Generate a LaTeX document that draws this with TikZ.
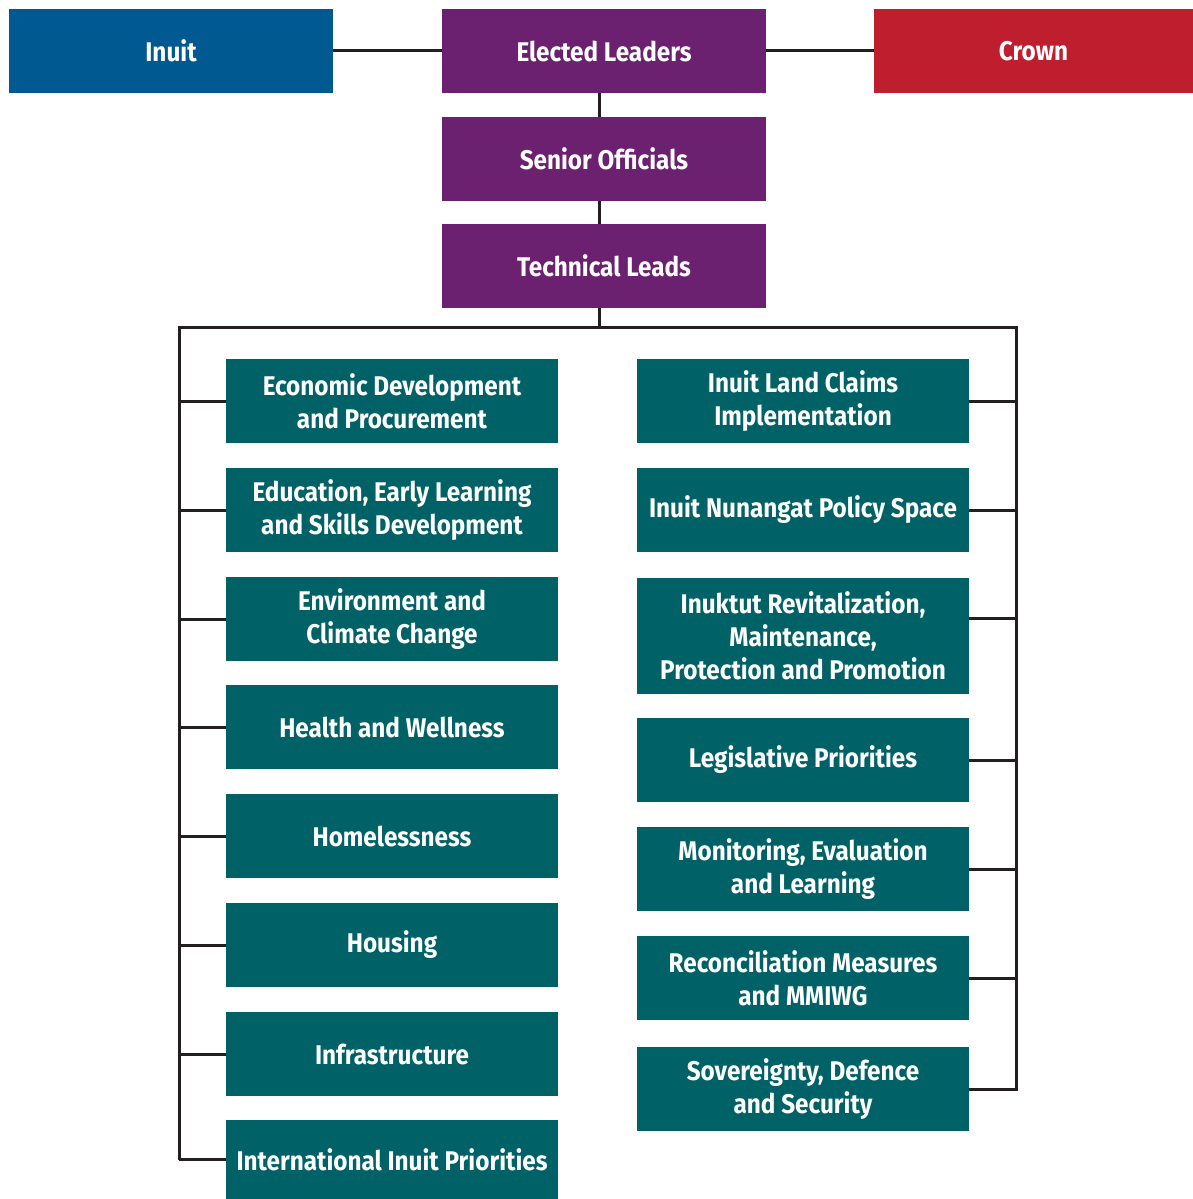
\documentclass[tikz,border=0pt]{standalone}
\usepackage{fontspec}
\setmainfont[FakeStretch=0.9]{Fira Sans}
\definecolor{inuitblue}{HTML}{005A91}
\definecolor{govpurple}{HTML}{6B2070}
\definecolor{crownred}{HTML}{BE1E2D}
\definecolor{wgteal}{HTML}{006266}
\definecolor{linegray}{HTML}{231F20}
\begin{document}
\begin{tikzpicture}[x=1pt,y=-1pt,
  box/.style={rectangle, inner sep=0pt, text=white, align=center,
    font=\bfseries\fontsize{27}{33}\selectfont},
  topbox/.style={box, minimum width=324pt, minimum height=84pt},
  lbox/.style={box, fill=wgteal, minimum width=332pt, minimum height=84pt},
  conn/.style={draw=linegray, line width=3pt}]
\useasboundingbox (0,0) rectangle (1193,1199);
% top row
\node[topbox, fill=inuitblue] (inuit) at (171,51) {Inuit};
\node[topbox, fill=govpurple] (elected) at (604,51) {Elected Leaders};
\node[topbox, fill=crownred, minimum width=319pt] (crown) at (1033.5,51) {Crown};
\node[topbox, fill=govpurple] (senior) at (604,159) {Senior Officials};
\node[topbox, fill=govpurple] (tech) at (604,266) {Technical Leads};
% left column
\node[lbox] (l1) at (392,401) {Economic Development\\and Procurement};
\node[lbox] (l2) at (392,510) {Education, Early Learning\\and Skills Development};
\node[lbox] (l3) at (392,619) {Environment and\\Climate Change};
\node[lbox] (l4) at (392,727) {Health and Wellness};
\node[lbox] (l5) at (392,836) {Homelessness};
\node[lbox] (l6) at (392,945) {Housing};
\node[lbox] (l7) at (392,1054) {Infrastructure};
\node[lbox, minimum height=79pt] (l8) at (392,1159.5) {International Inuit Priorities};
% right column
\node[lbox] (r1) at (803,401) {Inuit Land Claims\\Implementation};
\node[lbox] (r2) at (803,510) {Inuit Nunangat Policy Space};
\node[lbox, minimum height=116pt] (r3) at (803,636) {Inuktut Revitalization,\\Maintenance,\\Protection and Promotion};
\node[lbox] (r4) at (803,760) {Legislative Priorities};
\node[lbox] (r5) at (803,869) {Monitoring, Evaluation\\and Learning};
\node[lbox] (r6) at (803,978) {Reconciliation Measures\\and MMIWG};
\node[lbox] (r7) at (803,1089) {Sovereignty, Defence\\and Security};
% bus coordinates
\coordinate (bus) at (599,327);
\coordinate (lspine) at (179,327);
\coordinate (rspine) at (1016,327);
\coordinate (lend) at (179,1160);
% connectors
\draw[conn] (inuit.east) -- (elected.west);
\draw[conn] (elected.east) -- (crown.west);
\draw[conn] (elected.south -| bus) -- (senior.north -| bus);
\draw[conn] (senior.south -| bus) -- (tech.north -| bus);
\draw[conn] (tech.south -| bus) -- (bus);
\draw[conn, line join=miter] (lend) -- (lspine) -- (rspine) -- (r7.east -| rspine) -- (r7.east);
\foreach \n in {l1,l2,l3,l4,l5,l6,l7,l8}{
  \draw[conn] (\n.west) -- (\n.west -| lspine);
}
\foreach \n in {r1,r2,r4,r5,r6}{
  \draw[conn] (\n.east) -- (\n.east -| rspine);
}
\draw[conn] ([yshift=18pt]r3.east) -- ([yshift=18pt]r3.east -| rspine);
\end{tikzpicture}
\end{document}
